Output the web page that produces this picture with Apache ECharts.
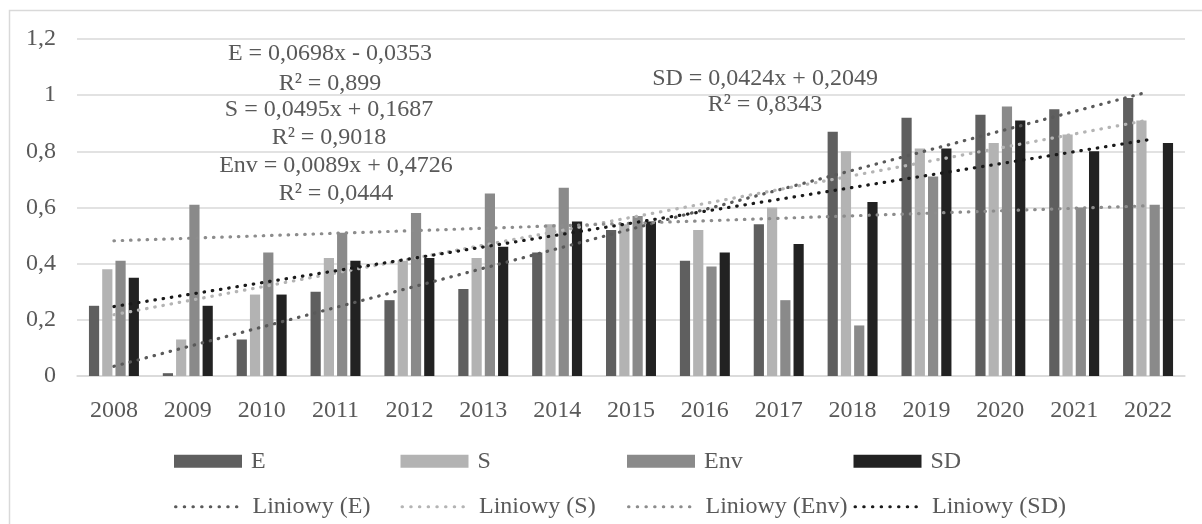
<!DOCTYPE html>
<html>
<head>
<meta charset="utf-8">
<script src="https://cdn.jsdelivr.net/npm/echarts@6/dist/echarts.min.js"></script>
<style>
  html, body { margin: 0; padding: 0; background: #ffffff; }
  #chart { width: 1202px; height: 524px; }
</style>
</head>
<body>
<div id="chart"></div>
<script>
// Yearly index values
const years = ['2008','2009','2010','2011','2012','2013','2014','2015','2016','2017','2018','2019','2020','2021','2022'];
const eVals   = [0.25, 0.01, 0.13, 0.30, 0.27, 0.31, 0.44, 0.52, 0.41, 0.54, 0.87, 0.92, 0.93, 0.95, 0.99];
const sVals   = [0.38, 0.13, 0.29, 0.42, 0.41, 0.42, 0.54, 0.54, 0.52, 0.60, 0.80, 0.81, 0.83, 0.86, 0.91];
const envVals = [0.41, 0.61, 0.44, 0.51, 0.58, 0.65, 0.67, 0.57, 0.39, 0.27, 0.18, 0.71, 0.96, 0.60, 0.61];
const sdVals  = [0.35, 0.25, 0.29, 0.41, 0.42, 0.46, 0.55, 0.55, 0.44, 0.47, 0.62, 0.81, 0.91, 0.80, 0.83];

// Linear trend coefficients (y = slope * x + intercept, x = 1..15) and R²
const seriesNames = ['E', 'S', 'Env', 'SD'];
const slopes      = [0.0698, 0.0495, 0.0089, 0.0424];
const intercepts  = [-0.0353, 0.1687, 0.4726, 0.2049];
const rSquared    = [0.899, 0.9018, 0.0444, 0.8343];

// Y axis tick labels
const yTicks = [0, 0.2, 0.4, 0.6, 0.8, 1, 1.2];

const barColors   = ['#5f5f5f', '#b3b3b3', '#8a8a8a', '#222222'];
const trendColors = ['#5a5a5a', '#b4b4b4', '#8c8c8c', '#1a1a1a'];
const textColor = '#595959';
const fontFamily = '"Liberation Serif", "Times New Roman", serif';

const plPL = v => String(v).replace('.', ',');
const trendName = n => 'Liniowy (' + n + ')';

function trendValues(k) {
  return years.map((_, i) => +(slopes[k] * (i + 1) + intercepts[k]).toFixed(5));
}
function equationText(k) {
  const b = intercepts[k];
  return seriesNames[k] + ' = ' + plPL(slopes[k]) + 'x ' + (b < 0 ? '- ' : '+ ') + plPL(Math.abs(b));
}
function r2Text(k) {
  return 'R\u00B2 = ' + plPL(rSquared[k]);
}

const valueSets = [eVals, sVals, envVals, sdVals];

const barSeries = seriesNames.map((n, k) => ({
  name: n,
  type: 'bar',
  data: valueSets[k],
  barWidth: 10.2,
  barGap: '30%',
  itemStyle: { color: barColors[k] },
  emphasis: { disabled: true }
}));

const lineSeries = seriesNames.map((n, k) => ({
  name: trendName(n),
  type: 'line',
  data: trendValues(k),
  symbol: 'none',
  smooth: false,
  z: 5,
  lineStyle: { color: trendColors[k], width: 3.2, type: [0.5, 7.8], cap: 'round' },
  itemStyle: { color: trendColors[k] },
  emphasis: { disabled: true }
}));

// Trend equation labels: [series index, centre x, first line y, second line y]
const eqPlacement = [
  [0, 330, 54, 84],
  [1, 329, 109.5, 137.5],
  [2, 336, 166, 194],
  [3, 765, 78.7, 104.7]
];
const eqGraphics = [];
eqPlacement.forEach(([k, x, y1, y2]) => {
  [[equationText(k), y1], [r2Text(k), y2]].forEach(([t, y]) => {
    eqGraphics.push({
      type: 'text', x: x, y: y, z: 10,
      style: {
        text: t, fill: textColor, fontSize: 24, fontFamily: fontFamily,
        align: 'center', verticalAlign: 'middle'
      }
    });
  });
});

// Legend: one component per entry, bars on the first row, trends on the second
const legendLefts = [169, 395.5, 622, 848.5];
const legends = [];
seriesNames.forEach((n, k) => {
  legends.push({
    left: legendLefts[k], top: 442.3,
    itemWidth: 68, itemHeight: 13,
    selectedMode: false,
    data: [{ name: n, icon: 'rect' }],
    textStyle: {
      color: textColor, fontSize: 24, fontFamily: fontFamily,
      lineHeight: 24, padding: [0, 0, 4, 4]
    }
  });
  legends.push({
    left: legendLefts[k], top: 482.7,
    itemWidth: 62, itemHeight: 13,
    selectedMode: false,
    data: [{ name: trendName(n), itemStyle: { opacity: 0 } }],
    lineStyle: { width: 3, type: [0.5, 8.2], cap: 'round' },
    textStyle: {
      color: textColor, fontSize: 24, fontFamily: fontFamily,
      lineHeight: 24, padding: [0, 0, 14, 10]
    }
  });
});

const chart = echarts.init(document.getElementById('chart'), null, { renderer: 'canvas' });
chart.setOption({
  animation: false,
  backgroundColor: '#ffffff',
  textStyle: { fontFamily: fontFamily },
  grid: { left: 77, right: 17, top: 39, bottom: 148, containLabel: false },
  legend: legends,
  xAxis: {
    type: 'category',
    data: years,
    boundaryGap: true,
    axisLine: { show: true, lineStyle: { color: '#d9d9d9', width: 1.5 } },
    axisTick: { show: false },
    axisLabel: { color: textColor, fontSize: 24, fontFamily: fontFamily, margin: 23 }
  },
  yAxis: {
    type: 'value',
    min: yTicks[0],
    max: yTicks[yTicks.length - 1],
    interval: yTicks[1] - yTicks[0],
    axisLine: { show: false },
    axisTick: { show: false },
    splitLine: { lineStyle: { color: '#d9d9d9', width: 1.5 } },
    axisLabel: {
      color: textColor, fontSize: 24, fontFamily: fontFamily, margin: 21,
      formatter: v => plPL(+v.toFixed(1))
    }
  },
  series: barSeries.concat(lineSeries),
  graphic: [
    {
      type: 'rect', z: -10, silent: true,
      shape: { x: 9.5, y: 10.5, width: 1300, height: 600 },
      style: { fill: 'none', stroke: '#d9d9d9', lineWidth: 1.5 }
    }
  ].concat(eqGraphics)
});
</script>
</body>
</html>
